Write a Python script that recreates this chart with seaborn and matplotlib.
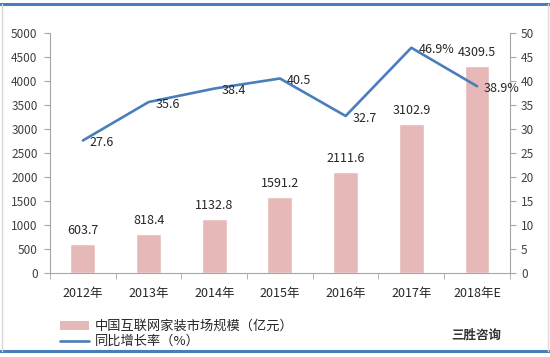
import numpy as np
import pandas as pd
import matplotlib
matplotlib.use("Agg")
import matplotlib.pyplot as plt
import seaborn as sns
from matplotlib.patches import Patch
from matplotlib.lines import Line2D

years = ['2012年', '2013年', '2014年', '2015年', '2016年', '2017年', '2018年E']
market_size = [603.7, 818.4, 1132.8, 1591.2, 2111.6, 3102.9, 4309.5]
growth = [27.6, 35.6, 38.4, 40.5, 32.7, 46.9, 38.9]
growth_labels = ['27.6', '35.6', '38.4', '40.5', '32.7', '46.9%', '38.9%']

bar_color = '#E6B9B8'
line_color = '#4A7EBB'
axis_gray = '#A6A6A6'

sns.set_style('white')
plt.rcParams['font.family'] = ['Noto Sans CJK SC', 'DejaVu Sans']

df = pd.DataFrame({'year': years, 'size': market_size, 'growth': growth})

fig = plt.figure(figsize=(5.5, 3.57), dpi=100)
ax = fig.add_axes([0.091, 0.235, 0.836, 0.673])

sns.barplot(data=df, x='year', y='size', color=bar_color, width=0.38,
            saturation=1, ax=ax)
ax.set_ylim(0, 5000)
ax.set_yticks(np.arange(0, 5001, 500))
ax.set_xlim(-0.5, len(years) - 0.5)
ax.set_xlabel('')
ax.set_ylabel('')

for i, v in enumerate(market_size):
    ax.annotate(f'{v:.1f}', (i, v), xytext=(0, 5), textcoords='offset points',
                ha='center', va='bottom', fontsize=9, color='#262626')

ax2 = ax.twinx()
sns.lineplot(data=df, x='year', y='growth', color=line_color, linewidth=1.9,
             ax=ax2, sort=False)
ax2.set_ylim(0, 50)
ax2.set_yticks(np.arange(0, 51, 5))
ax2.set_ylabel('')
ax2.set_xlim(-0.5, len(years) - 0.5)

for i, (v, lab) in enumerate(zip(growth, growth_labels)):
    ax2.annotate(lab, (i, v), xytext=(5, -1.5), textcoords='offset points',
                 ha='left', va='center', fontsize=9, color='#262626')

for a in (ax, ax2):
    for s in a.spines.values():
        s.set_visible(False)
ax.spines['left'].set_visible(True)
ax.spines['bottom'].set_visible(True)
ax2.spines['right'].set_visible(True)
for s in (ax.spines['left'], ax.spines['bottom'], ax2.spines['right']):
    s.set_color(axis_gray)
    s.set_linewidth(0.8)

ax.tick_params(axis='y', length=4, color=axis_gray, labelsize=8.5,
               labelcolor='#404040', left=True, direction='out', pad=5)
ax2.tick_params(axis='y', length=4, color=axis_gray, labelsize=8.5,
                labelcolor='#404040', right=True, direction='out', pad=4)
ax.set_xticks(np.arange(len(years)))
ax.set_xticklabels(years)
ax.tick_params(axis='x', length=0, labelsize=9, labelcolor='#262626', pad=10)
ax.set_xticks(np.arange(-0.5, len(years)), minor=True)
ax.tick_params(axis='x', which='minor', length=4, color=axis_gray,
               bottom=True, direction='out')

handles = [Patch(facecolor=bar_color, edgecolor='none'),
           Line2D([0], [0], color=line_color, linewidth=1.9)]
fig.legend(handles, ['中国互联网家装市场规模（亿元）', '同比增长率（%）'],
           loc='lower left', bbox_to_anchor=(0.1, 0.01), frameon=False,
           fontsize=9.5, handlelength=2.2, labelspacing=0.15,
           handletextpad=0.4, borderaxespad=0)

fig.text(0.865, 0.062, '三胜咨询', fontsize=9, fontweight='bold',
         color='#333333', ha='center', va='center')

# frame around the picture
fig.add_artist(Line2D([0, 1], [0.988, 0.988], color=line_color, linewidth=2.2,
                      transform=fig.transFigure))
fig.add_artist(Line2D([0, 1], [0.016, 0.016], color=line_color, linewidth=2.2,
                      transform=fig.transFigure))
fig.add_artist(Line2D([0.004, 0.004], [0.016, 0.988], color='#D9D9D9',
                      linewidth=1, transform=fig.transFigure))
fig.add_artist(Line2D([0.996, 0.996], [0.016, 0.988], color='#D9D9D9',
                      linewidth=1, transform=fig.transFigure))

fig.savefig('out.png', dpi=100)
